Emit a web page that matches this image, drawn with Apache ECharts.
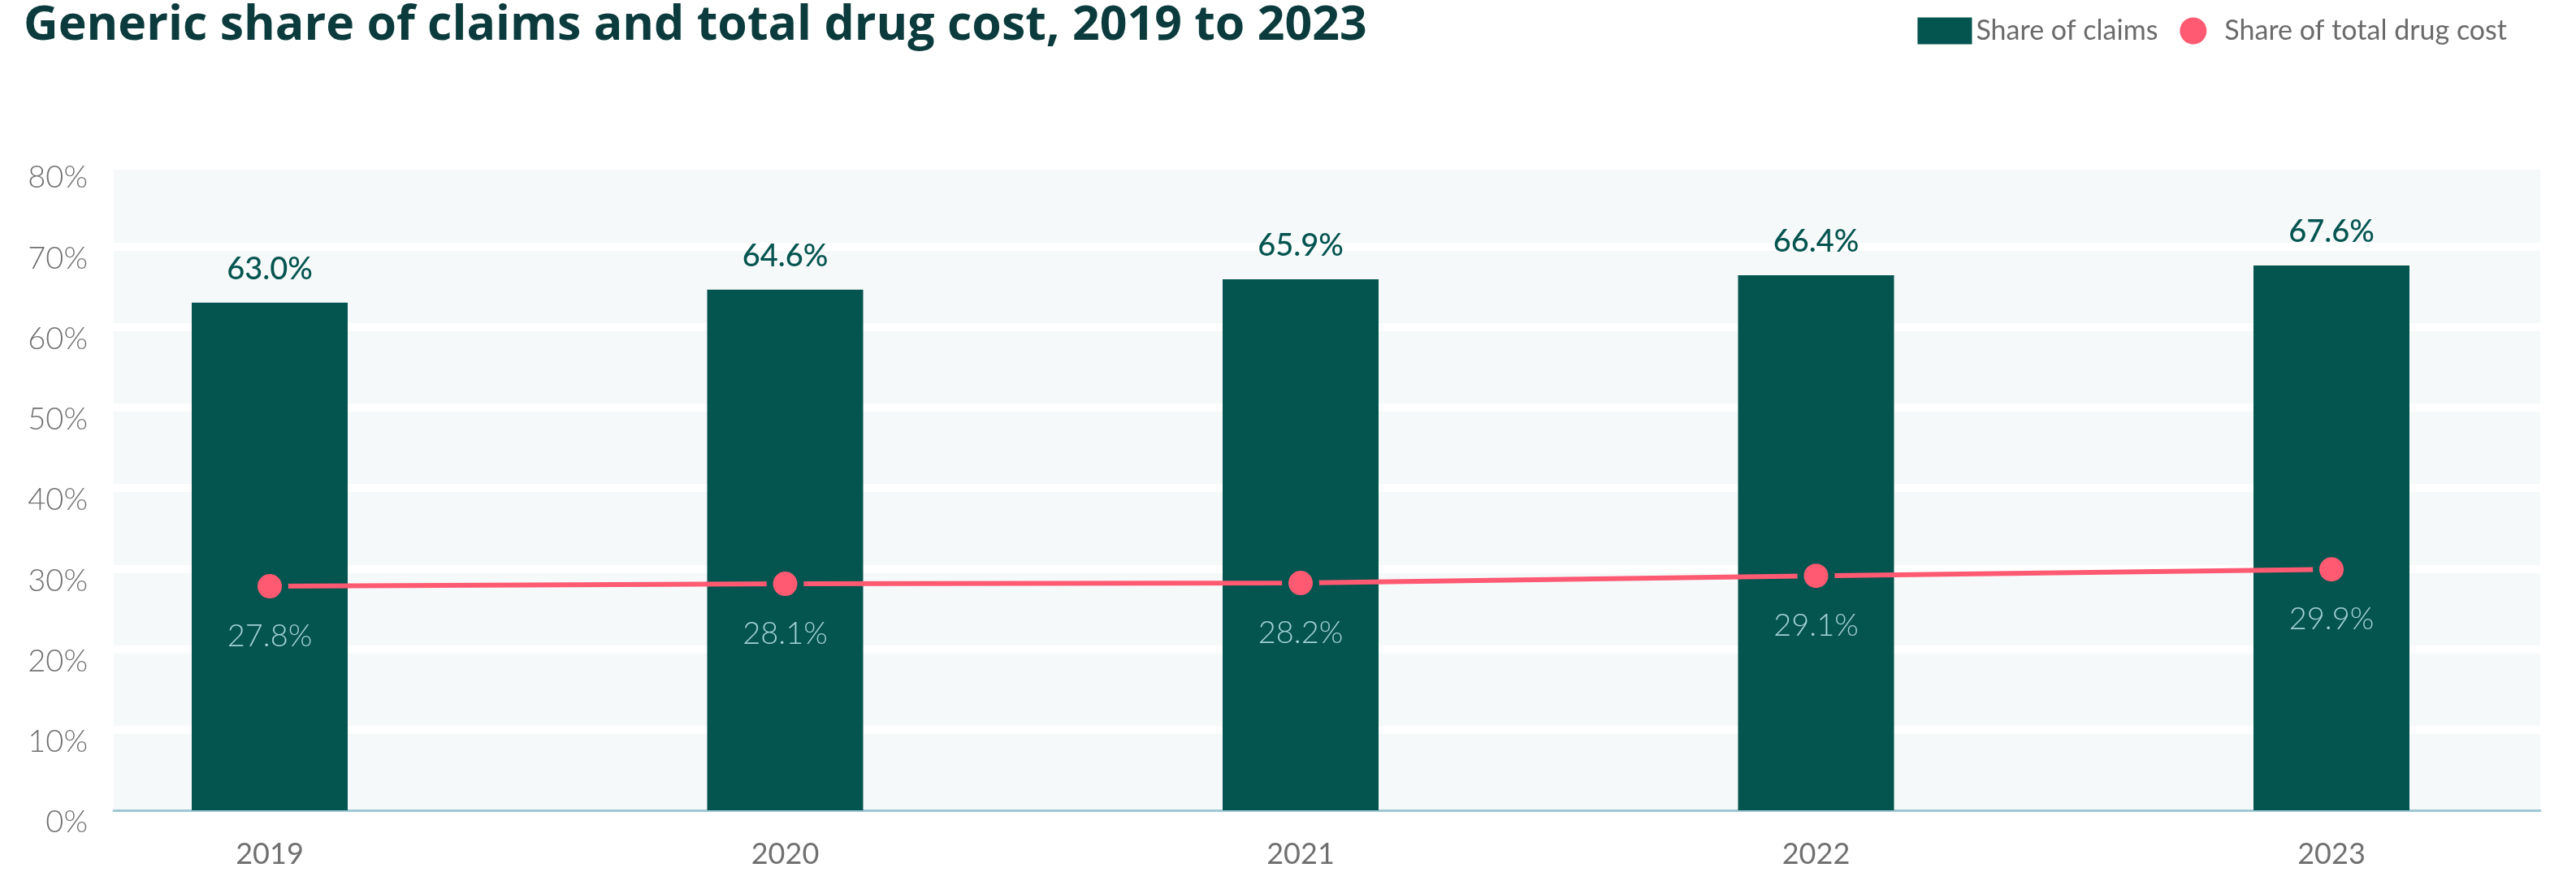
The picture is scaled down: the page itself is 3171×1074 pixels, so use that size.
<!DOCTYPE html>
<html>
<head>
<meta charset="utf-8">
<script src="https://cdn.jsdelivr.net/npm/echarts@6/dist/echarts.min.js"></script>
<style>
  html, body { margin: 0; padding: 0; background: #ffffff; }
  #chart { width: 3171px; height: 1074px; }
</style>
</head>
<body>
<div id="chart"></div>
<script>
// data
var years = ['2019', '2020', '2021', '2022', '2023'];
var claimsShare = [63.0, 64.6, 65.9, 66.4, 67.6];
var costShare = [27.8, 28.1, 28.2, 29.1, 29.9];

var FONT = 'Lato, "Noto Sans", sans-serif';
var TITLE_FONT = '"Open Sans", Lato, sans-serif';
var TEAL = '#04544f';
var PINK = '#ff5a72';

function renderChart(id) {
    var dom = document.getElementById(id);
    var myChart = echarts.init(dom, null, { renderer: 'canvas' });

    var option = {
        backgroundColor: '#ffffff',
        animation: false,
        textStyle: { fontFamily: FONT },
        title: {
            text: 'Generic share of claims and total drug cost, 2019 to 2023',
            left: 24,
            top: -2,
            textStyle: { fontFamily: TITLE_FONT, fontSize: 59, fontWeight: 'bold', color: '#0b3b3c' }
        },
        legend: {
            right: 80,
            top: 16,
            itemWidth: 67,
            itemHeight: 33,
            itemGap: 27,
            textStyle: { fontFamily: FONT, fontSize: 34, color: '#6b6b6b' },
            data: [
                { name: 'Share of claims', icon: 'rect' },
                { name: 'Share of total drug cost', icon: 'circle', itemStyle: { borderWidth: 0, color: PINK } }
            ]
        },
        // grid 0 = shaded background with y labels, grid 1 = the marks
        grid: [
            { left: 140, right: 44, top: 204, bottom: 76, show: true, backgroundColor: '#f5f9fa', borderWidth: 0 },
            { left: 332, right: 301, top: 204, bottom: 76 }
        ],
        xAxis: [
            {
                type: 'category', gridIndex: 0, data: years,
                axisLine: { lineStyle: { color: '#9dc8d4', width: 3 } },
                axisTick: { show: false },
                axisLabel: { show: false }
            },
            {
                type: 'category', gridIndex: 1, data: years, boundaryGap: false,
                axisLine: { show: false },
                axisTick: { show: false },
                axisLabel: { fontFamily: FONT, fontSize: 36, color: '#707070', margin: 36 }
            }
        ],
        yAxis: [
            {
                type: 'value', gridIndex: 0, min: 0, max: 80, interval: 10,
                axisLine: { show: false },
                axisTick: { show: false },
                splitLine: { show: true, showMinLine: false, lineStyle: { color: '#ffffff', width: 10 } },
                axisLabel: {
                    formatter: '{value}%', fontFamily: FONT, fontSize: 38, fontWeight: 300,
                    color: '#707070', margin: 32, verticalAlign: 'top', lineHeight: 30
                }
            },
            {
                type: 'value', gridIndex: 1, min: 0, max: 80, interval: 10, show: false,
                splitLine: { show: false }
            }
        ],
        series: [
            {
                name: 'Share of claims',
                type: 'bar',
                xAxisIndex: 1,
                yAxisIndex: 1,
                barWidth: 192,
                data: claimsShare,
                itemStyle: { color: TEAL },
                label: {
                    show: true,
                    position: 'top',
                    distance: 22,
                    fontFamily: FONT,
                    fontSize: 38,
                    fontWeight: 500,
                    color: TEAL,
                    formatter: function (p) { return p.value.toFixed(1) + '%'; }
                },
                z: 2
            },
            {
                name: 'Share of total drug cost',
                type: 'line',
                xAxisIndex: 1,
                yAxisIndex: 1,
                data: costShare,
                symbol: 'circle',
                symbolSize: 38,
                lineStyle: { color: PINK, width: 6 },
                itemStyle: { color: PINK, borderColor: TEAL, borderWidth: 8 },
                label: {
                    show: true,
                    position: 'bottom',
                    distance: 20,
                    fontFamily: FONT,
                    fontSize: 38,
                    fontWeight: 300,
                    color: '#a3d0da',
                    formatter: function (p) { return p.value.toFixed(1) + '%'; }
                },
                z: 3
            }
        ]
    };

    myChart.setOption(option);
    window.addEventListener('resize', function () { myChart.resize(); });
}

renderChart('chart');
</script>
</body>
</html>
